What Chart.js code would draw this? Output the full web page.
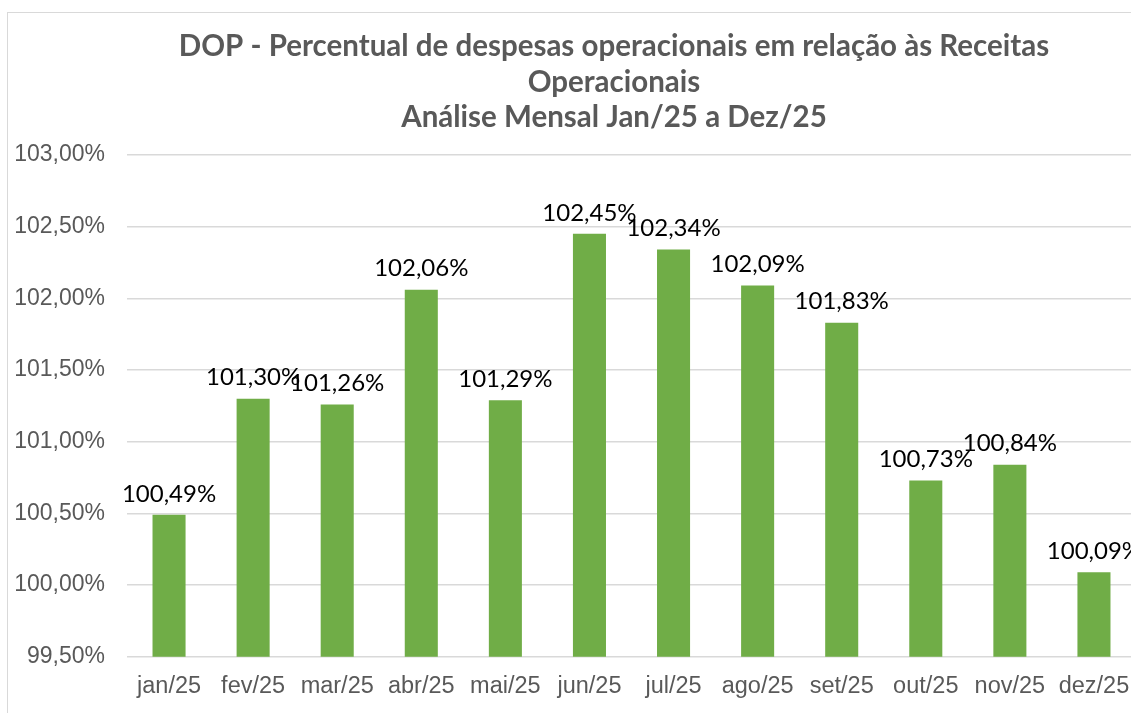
<!DOCTYPE html>
<html lang="pt-BR">
<head>
<meta charset="utf-8">
<title>DOP - Análise Mensal</title>
<script src="https://cdn.jsdelivr.net/npm/chart.js@4.4.1/dist/chart.umd.min.js"></script>
<style>
    html, body { margin: 0; padding: 0; background: #fff; overflow: hidden; }
    #moldura {
        position: absolute;
        left: 7px;
        top: 12px;
        width: 1212px;
        height: 730px;
        border-left: 1px solid #d9d9d9;
        border-top: 1px solid #d9d9d9;
    }
    #grafico { display: block; }
</style>
</head>
<body>
<div id="moldura">
    <canvas id="grafico" width="1212" height="709"></canvas>
</div>
<script>
const meses = ['jan/25', 'fev/25', 'mar/25', 'abr/25', 'mai/25', 'jun/25',
               'jul/25', 'ago/25', 'set/25', 'out/25', 'nov/25', 'dez/25'];
const percentuais = [100.49, 101.30, 101.26, 102.06, 101.29, 102.45,
                     102.34, 102.09, 101.83, 100.73, 100.84, 100.09];
const titulo = ['DOP - Percentual de despesas operacionais em relação às Receitas',
                'Operacionais',
                'Análise Mensal Jan/25 a Dez/25'];

function formatarPct(v){
    return v.toFixed(2).replace('.', ',') + '%';
}

// rotulos de dados acima das barras
const rotulosBarras = {
    id: 'rotulosBarras',
    afterDatasetsDraw(chart){
        const ctx = chart.ctx;
        const meta = chart.getDatasetMeta(0);
        ctx.save();
        ctx.font = '24px Lato';
        ctx.fillStyle = '#000';
        ctx.textAlign = 'center';
        ctx.textBaseline = 'middle';
        meta.data.forEach((barra, i) => {
            ctx.fillText(formatarPct(percentuais[i]), barra.x, barra.y - 21);
        });
        ctx.restore();
    }
};

new Chart(document.getElementById('grafico'), {
    type: 'bar',
    data: {
        labels: meses,
        datasets: [{
            label: 'DOP',
            data: percentuais,
            backgroundColor: '#70ad47',
            borderWidth: 0,
            barPercentage: 0.393,
            categoryPercentage: 1
        }]
    },
    options: {
        responsive: false,
        animation: false,
        layout: {
            padding: { left: 0, right: 0, top: 0, bottom: 13 }
        },
        plugins: {
            legend: { display: false },
            tooltip: { enabled: false },
            title: {
                display: true,
                text: titulo,
                color: '#595959',
                font: { family: 'Lato', size: 29.5, weight: 'bold', lineHeight: 1.22 },
                padding: { top: 15, bottom: 19 }
            }
        },
        scales: {
            x: {
                grid: { display: false },
                border: { display: false },
                ticks: {
                    color: '#595959',
                    font: { family: '"Liberation Sans", Arial', size: 23.5 },
                    padding: 8,
                    maxRotation: 0,
                    autoSkip: false
                }
            },
            y: {
                min: 99.5,
                max: 103,
                grid: { color: '#d9d9d9', lineWidth: 1.5, drawTicks: false },
                border: { display: false },
                afterFit(scale){ scale.width = 119; },
                ticks: {
                    stepSize: 0.5,
                    color: '#595959',
                    font: { family: '"Liberation Sans", Arial', size: 23 },
                    padding: 22,
                    callback: (v) => formatarPct(v)
                }
            },
            direita: {
                position: 'right',
                display: true,
                grid: { display: false },
                border: { display: false },
                ticks: { display: false },
                afterFit(scale){ scale.width = 84; }
            }
        }
    },
    plugins: [rotulosBarras]
});
</script>
</body>
</html>
